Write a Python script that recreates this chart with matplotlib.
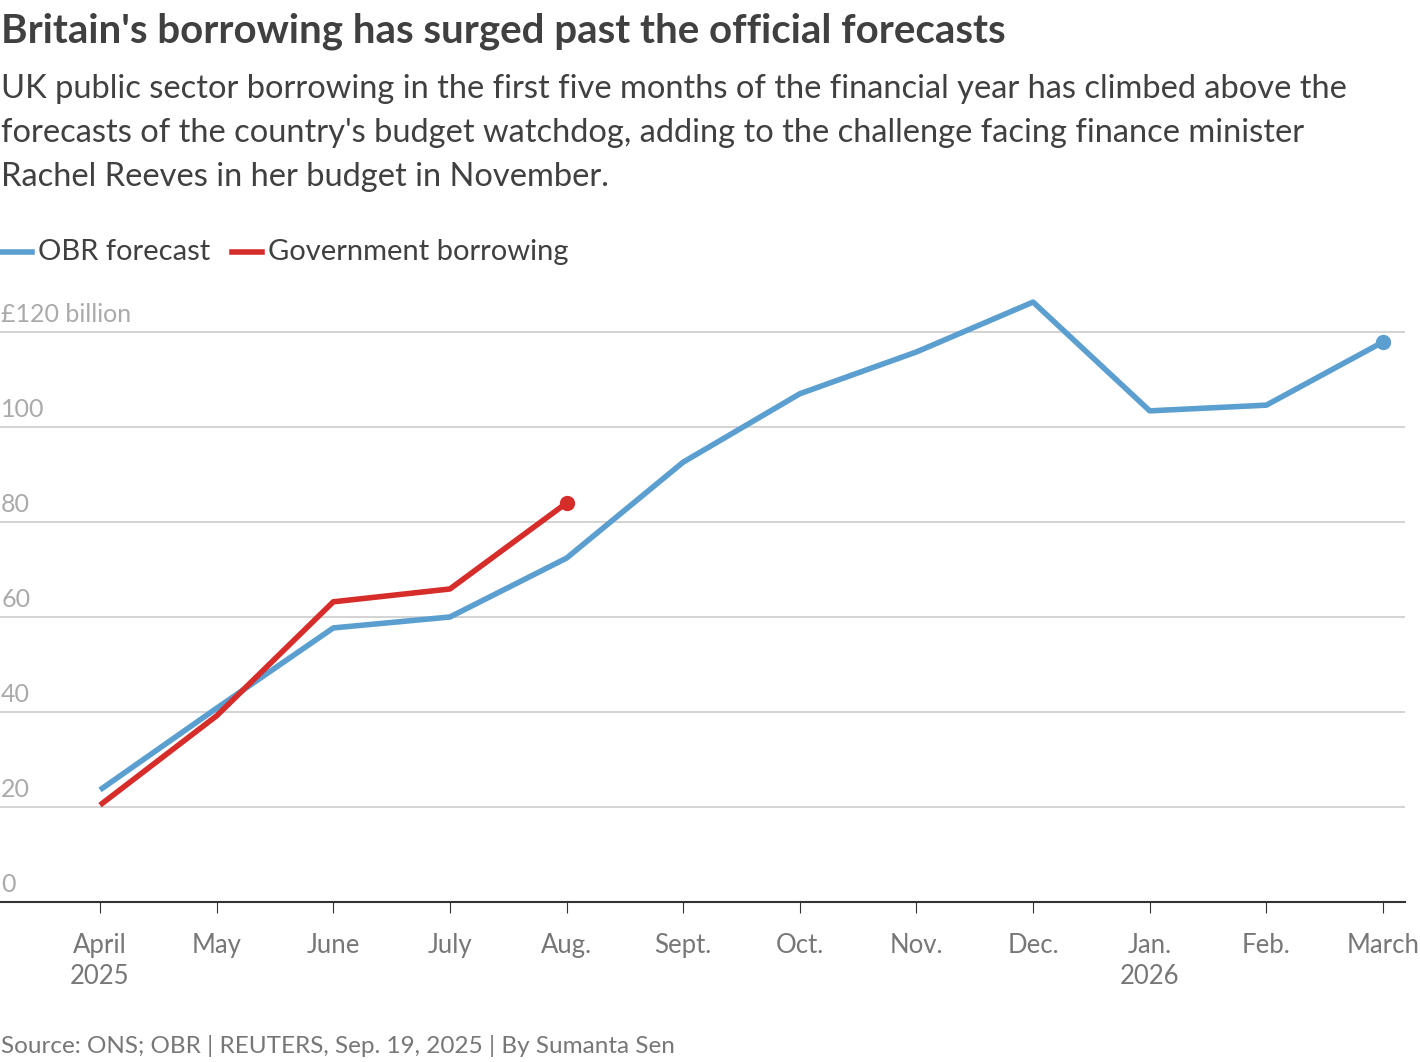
import matplotlib
matplotlib.use("Agg")
import matplotlib.pyplot as plt

months = ["April\n2025","May","June","July","Aug.","Sept.","Oct.","Nov.","Dec.","Jan.\n2026","Feb.","March"]
obr = [23.6,40.8,57.7,60.0,72.4,92.6,107.0,115.8,126.3,103.4,104.6,117.9]
gov = [20.4,39.2,63.2,65.9,84.0]
yticks = [0,20,40,60,80,100,120]
ylabels = ["0","20","40","60","80","100","£120 billion"]

plt.rcParams['font.family'] = ['Lato', 'DejaVu Sans']
W, H = 1420, 1062
fig = plt.figure(figsize=(W/100, H/100), dpi=100)
ax = fig.add_axes([0, 1-902/H, 1405/W, 128*4.75/H])
blue, red, grey = "#5b9fd0", "#d62d2a", "#aaaaaa"
x = list(range(len(months)))
ax.plot(x, obr, color=blue, lw=4, solid_capstyle='butt', zorder=3)
ax.plot(x[-1], obr[-1], 'o', color=blue, ms=10, zorder=4)
ax.plot(x[:len(gov)], gov, color=red, lw=4, solid_capstyle='butt', zorder=5)
ax.plot(x[len(gov)-1], gov[-1], 'o', color=red, ms=10, zorder=6)
ax.set_xlim(-100/116.6, 11+22/116.6)
ax.set_ylim(0, 128)
for v, l in zip(yticks, ylabels):
    if v > 0:
        ax.axhline(v, color="#cccccc", lw=1.2, zorder=1)
    ax.text(-100/116.6 + 0.01, v + 1.3, l, fontsize=18, color=grey, va='bottom', ha='left')
for s in ['top','right','left']:
    ax.spines[s].set_visible(False)
ax.spines['bottom'].set_color('#333333')
ax.spines['bottom'].set_linewidth(1.5)
ax.set_yticks([])
ax.set_xticks(x)
ax.set_xticklabels(months, fontsize=18.5, color="#777777", linespacing=1.3)
ax.tick_params(axis='x', length=8, color='#333333', pad=14)

fig.text(0.001, 1-31/H, "Britain's borrowing has surged past the official forecasts", fontsize=29, fontweight='bold', color="#404040", va='center')
fig.text(0.001, 1-133/H, "UK public sector borrowing in the first five months of the financial year has climbed above the\nforecasts of the country's budget watchdog, adding to the challenge facing finance minister\nRachel Reeves in her budget in November.", fontsize=23.5, color="#404040", va='center', linespacing=1.6)
fig.lines.append(plt.Line2D([2/W, 32/W], [1-252/H]*2, color=blue, lw=4, transform=fig.transFigure))
fig.text(38/W, 1-252/H, "OBR forecast", fontsize=21, color="#404040", va='center')
fig.lines.append(plt.Line2D([232/W, 262/W], [1-252/H]*2, color=red, lw=4, transform=fig.transFigure))
fig.text(268/W, 1-252/H, "Government borrowing", fontsize=21, color="#404040", va='center')
fig.text(0.001, 1-1046/H, "Source: ONS; OBR | REUTERS, Sep. 19, 2025 | By Sumanta Sen", fontsize=17.5, color="#777777", va='center')
fig.savefig("out.png", dpi=100)
